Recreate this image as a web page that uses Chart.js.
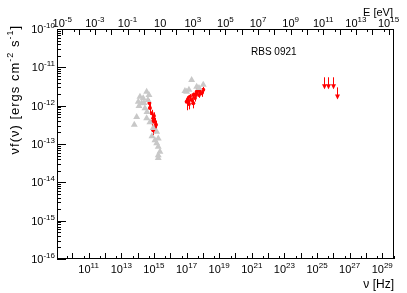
<!DOCTYPE html>
<html>
<head>
<meta charset="utf-8">
<script src="https://cdn.jsdelivr.net/npm/chart.js@4.4.1/dist/chart.umd.min.js"></script>
<style>
  html, body { margin: 0; padding: 0; background: #fff; }
  #wrap { width: 407px; height: 293px; }
</style>
</head>
<body>
<div id="wrap"><canvas id="sedChart"></canvas></div>
<script>
// values (nu in Hz, nuF(nu) in erg cm^-2 s^-1)
const greyOptNu = [3.6e14, 2.2e14, 1.78e14, 2.83e14, 8.8e13, 6.3e13, 3.6e14, 9.1e14, 1.48e15, 1.85e15,
                   1.48e15, 1.85e15, 2.35e15, 1.85e15, 1.4e14, 1.1e14, 4.3e14, 2.46e14, 1.22e14, 3.76e14,
                   5.7e14, 7.6e14, 1.16e15, 5.0e14, 1.85e15];
const greyOptF  = [2.29e-12, 1.55e-12, 1.15e-12, 8.5e-13, 5.1e-13, 3.2e-13, 4.7e-13, 2.6e-13, 2.1e-13, 1.4e-13,
                   1.05e-13, 8.5e-14, 6.3e-14, 5.1e-14, 1.7e-12, 1.26e-12, 1.4e-12, 1.17e-12, 9.8e-13, 6.8e-13,
                   3.7e-13, 1.6e-13, 1.26e-13, 1.9e-12, 4.3e-14];

const greyXNu = [2.06e17, 1.02e17, 1.06e18, 4.2e17, 1.4e17, 5.8e17, 8.0e16];
const greyXF  = [4.7e-12, 2.3e-12, 3.5e-12, 3.1e-12, 2.6e-12, 2.9e-12, 2.4e-12];

const redOptNu  = [5.7e14, 7.3e14, 9.1e14, 1.16e15, 1.34e15, 1.16e15, 9.1e14, 7.6e14, 1.0e15, 5.3e14];
const redOptF   = [8.7e-13, 6.3e-13, 4.7e-13, 3.8e-13, 3.2e-13, 2.6e-13, 2.3e-13, 3.7e-13, 5.4e-13, 1.17e-12];
const redOptErr = [2.5e-13, 1.5e-13, 1.2e-13, 1.0e-13, 0.8e-13, 0.7e-13, 0.6e-13, 1.0e-13, 1.3e-13, 3.0e-13];

const redXNu  = [1.02e17, 1.22e17, 1.62e17, 2.06e17, 2.58e17, 2.58e17, 3.28e17, 4.2e17, 5.2e17, 6.6e17,
                 8.4e17, 1.06e18, 3.6e17, 1.4e17, 5.8e17];
const redXF   = [1.26e-12, 1.48e-12, 1.7e-12, 1.41e-12, 1.9e-12, 1.15e-12, 1.58e-12, 2.29e-12, 2.8e-12, 2.29e-12,
                 2.1e-12, 2.6e-12, 2.0e-12, 1.1e-12, 1.9e-12];
const redXErr = [0.5e-12, 0.3e-12, 0.3e-12, 0.25e-12, 0.3e-12, 0.3e-12, 0.3e-12, 0.35e-12, 0.4e-12, 0.35e-12,
                 0.4e-12, 0.5e-12, 0.3e-12, 0.3e-12, 0.3e-12];

// gamma-ray upper limits
const ulNu = [2.6e25, 4.8e25, 9.0e25, 1.8e26];
const ulF  = [5.5e-12, 5.5e-12, 5.5e-12, 3.0e-12];

// tick label exponents
const nuTickExps = [11, 13, 15, 17, 19, 21, 23, 25, 27, 29];
const eTickExps  = [-5, -3, -1, 1, 3, 5, 7, 9, 11, 13, 15];
const fTickExps  = [-10, -11, -12, -13, -14, -15, -16];

const sourceName = 'RBS 0921';
const H_EV = 4.1357e-15; // eV s

const NU_MIN = Math.pow(10, 9.06), NU_MAX = Math.pow(10, 29.72);
const FONT = '"Liberation Sans", Arial, Helvetica, sans-serif';

function pts(xs, ys) { return xs.map((x, i) => ({ x: x, y: ys[i] })); }

function drawPow(ctx, exp, x, y, align) {
  const sup = exp === 1 ? '' : String(exp);
  ctx.font = '11px ' + FONT;
  const wb = ctx.measureText('10').width;
  ctx.font = '8px ' + FONT;
  const ws = sup ? ctx.measureText(sup).width : 0;
  const w = wb + ws;
  let x0 = x - w / 2;
  if (align === 'right') x0 = x - w;
  ctx.textAlign = 'left';
  ctx.textBaseline = 'alphabetic';
  ctx.font = '11px ' + FONT;
  ctx.fillText('10', x0, y);
  if (sup) {
    ctx.font = '8px ' + FONT;
    ctx.fillText(sup, x0 + wb, y - 5);
  }
}

const sedAxes = {
  id: 'sedAxes',
  beforeDatasetsDraw(chart) {
    // vertical error bars
    const ctx = chart.ctx;
    const ys = chart.scales.y;
    chart.data.datasets.forEach((ds, i) => {
      if (!ds.yErr) return;
      const meta = chart.getDatasetMeta(i);
      ctx.save();
      ctx.strokeStyle = ds.backgroundColor;
      ctx.lineWidth = 1;
      meta.data.forEach((el, j) => {
        const v = ds.data[j].y, e = ds.yErr[j];
        const lo = Math.max(v - e, 1e-17);
        ctx.beginPath();
        ctx.moveTo(Math.round(el.x) + 0.5, ys.getPixelForValue(v + e));
        ctx.lineTo(Math.round(el.x) + 0.5, ys.getPixelForValue(lo));
        ctx.stroke();
      });
      ctx.restore();
    });
  },
  afterDatasetsDraw(chart) {
    // upper limit arrows
    const ctx = chart.ctx;
    chart.data.datasets.forEach((ds, i) => {
      if (!ds.upperLimit) return;
      const meta = chart.getDatasetMeta(i);
      ctx.save();
      ctx.strokeStyle = ds.borderColor;
      ctx.fillStyle = ds.borderColor;
      ctx.lineWidth = 1;
      meta.data.forEach((el) => {
        const x = Math.round(el.x) + 0.5, y = el.y;
        ctx.beginPath();
        ctx.moveTo(x, y);
        ctx.lineTo(x, y + 11);
        ctx.stroke();
        ctx.beginPath();
        ctx.moveTo(x - 2.5, y + 7);
        ctx.lineTo(x + 2.5, y + 7);
        ctx.lineTo(x, y + 12);
        ctx.closePath();
        ctx.fill();
      });
      ctx.restore();
    });
  },
  afterDraw(chart) {
    const ctx = chart.ctx;
    const a = chart.chartArea;
    const xs = chart.scales.x, xt = chart.scales.xTop, ys = chart.scales.y;
    ctx.save();
    ctx.strokeStyle = '#000';
    ctx.fillStyle = '#000';
    ctx.lineWidth = 1;
    ctx.strokeRect(a.left + 0.5, a.top + 0.5, a.right - a.left - 1, a.bottom - a.top - 1);

    ctx.beginPath();
    // bottom axis ticks (nu)
    for (let e = 9; e <= 30; e++) {
      [[1, 6], [5, 3]].forEach(([m, len]) => {
        const v = m * Math.pow(10, e);
        if (v < NU_MIN || v > NU_MAX) return;
        const px = Math.round(xs.getPixelForValue(v)) + 0.5;
        ctx.moveTo(px, a.bottom);
        ctx.lineTo(px, a.bottom - len);
      });
    }
    // top axis ticks (E)
    for (let e = -6; e <= 16; e++) {
      [[1, 6], [5, 3]].forEach(([m, len]) => {
        const v = m * Math.pow(10, e);
        if (v < xt.min || v > xt.max) return;
        const px = Math.round(xt.getPixelForValue(v)) + 0.5;
        ctx.moveTo(px, a.top);
        ctx.lineTo(px, a.top + len);
      });
    }
    // left axis ticks
    for (let e = -16; e < -10; e++) {
      for (let m = 1; m <= 9; m++) {
        const v = m * Math.pow(10, e);
        const py = Math.round(ys.getPixelForValue(v)) + 0.5;
        ctx.moveTo(a.left, py);
        ctx.lineTo(a.left + (m === 1 ? 9 : 4), py);
      }
    }
    ctx.stroke();

    // tick labels
    nuTickExps.forEach(e => drawPow(ctx, e, xs.getPixelForValue(Math.pow(10, e)), a.bottom + 14, 'center'));
    eTickExps.forEach(e => drawPow(ctx, e, xt.getPixelForValue(Math.pow(10, e)), a.top - 2, 'center'));
    fTickExps.forEach(e => drawPow(ctx, e, a.left - 2, ys.getPixelForValue(Math.pow(10, e)) + 4, 'right'));

    // axis titles
    ctx.textAlign = 'right';
    ctx.font = '12px ' + FONT;
    ctx.fillText('\u03bd [Hz]', a.right, a.bottom + 29);
    ctx.font = '11px ' + FONT;
    ctx.fillText('E [eV]', a.right - 1, a.top - 13);

    // y title with superscripts
    const parts = [['\u03bdf(\u03bd) [ergs cm', 0], ['-2', 1], [' s', 0], ['-1', 1], [']', 0]];
    ctx.letterSpacing = '1px';
    let w = 0;
    parts.forEach(([t, s]) => { ctx.font = (s ? '9px ' : '13px ') + FONT; w += ctx.measureText(t).width; });
    ctx.translate(19, a.top - 4 + w);
    ctx.rotate(-Math.PI / 2);
    ctx.textAlign = 'left';
    let cx = 0;
    parts.forEach(([t, s]) => {
      ctx.font = (s ? '9px ' : '13px ') + FONT;
      ctx.fillText(t, cx, s ? -6 : 0);
      cx += ctx.measureText(t).width;
    });
    ctx.setTransform(1, 0, 0, 1, 0, 0);
    ctx.letterSpacing = '0px';

    // source label
    ctx.font = '10px ' + FONT;
    ctx.textAlign = 'left';
    ctx.fillText(sourceName, 251, 55);
    ctx.restore();
  }
};

new Chart(document.getElementById('sedChart'), {
  type: 'scatter',
  data: {
    datasets: [
      { label: 'archive optical', data: pts(greyOptNu, greyOptF), pointStyle: 'triangle', pointRadius: 4,
        backgroundColor: '#c8c8c8', borderWidth: 0 },
      { label: 'archive X-ray', data: pts(greyXNu, greyXF), pointStyle: 'triangle', pointRadius: 4,
        backgroundColor: '#c8c8c8', borderWidth: 0 },
      { label: 'optical', data: pts(redOptNu, redOptF), yErr: redOptErr, pointRadius: 2,
        backgroundColor: '#ff0000', borderWidth: 0 },
      { label: 'X-ray', data: pts(redXNu, redXF), yErr: redXErr, pointRadius: 2,
        backgroundColor: '#ff0000', borderWidth: 0 },
      { label: 'gamma UL', data: pts(ulNu, ulF), upperLimit: true, pointRadius: 0,
        borderColor: '#ff0000', backgroundColor: '#ff0000' }
    ]
  },
  options: {
    responsive: true,
    maintainAspectRatio: false,
    animation: false,
    events: [],
    layout: { padding: { left: 57, top: 29, right: 13, bottom: 34 } },
    plugins: { legend: { display: false }, tooltip: { enabled: false } },
    scales: {
      x: { type: 'logarithmic', display: false, min: NU_MIN, max: NU_MAX },
      xTop: { type: 'logarithmic', display: false, position: 'top', axis: 'x',
              min: NU_MIN * H_EV, max: NU_MAX * H_EV },
      y: { type: 'logarithmic', display: false, min: 1e-16, max: 1e-10 }
    }
  },
  plugins: [sedAxes]
});
</script>
</body>
</html>
